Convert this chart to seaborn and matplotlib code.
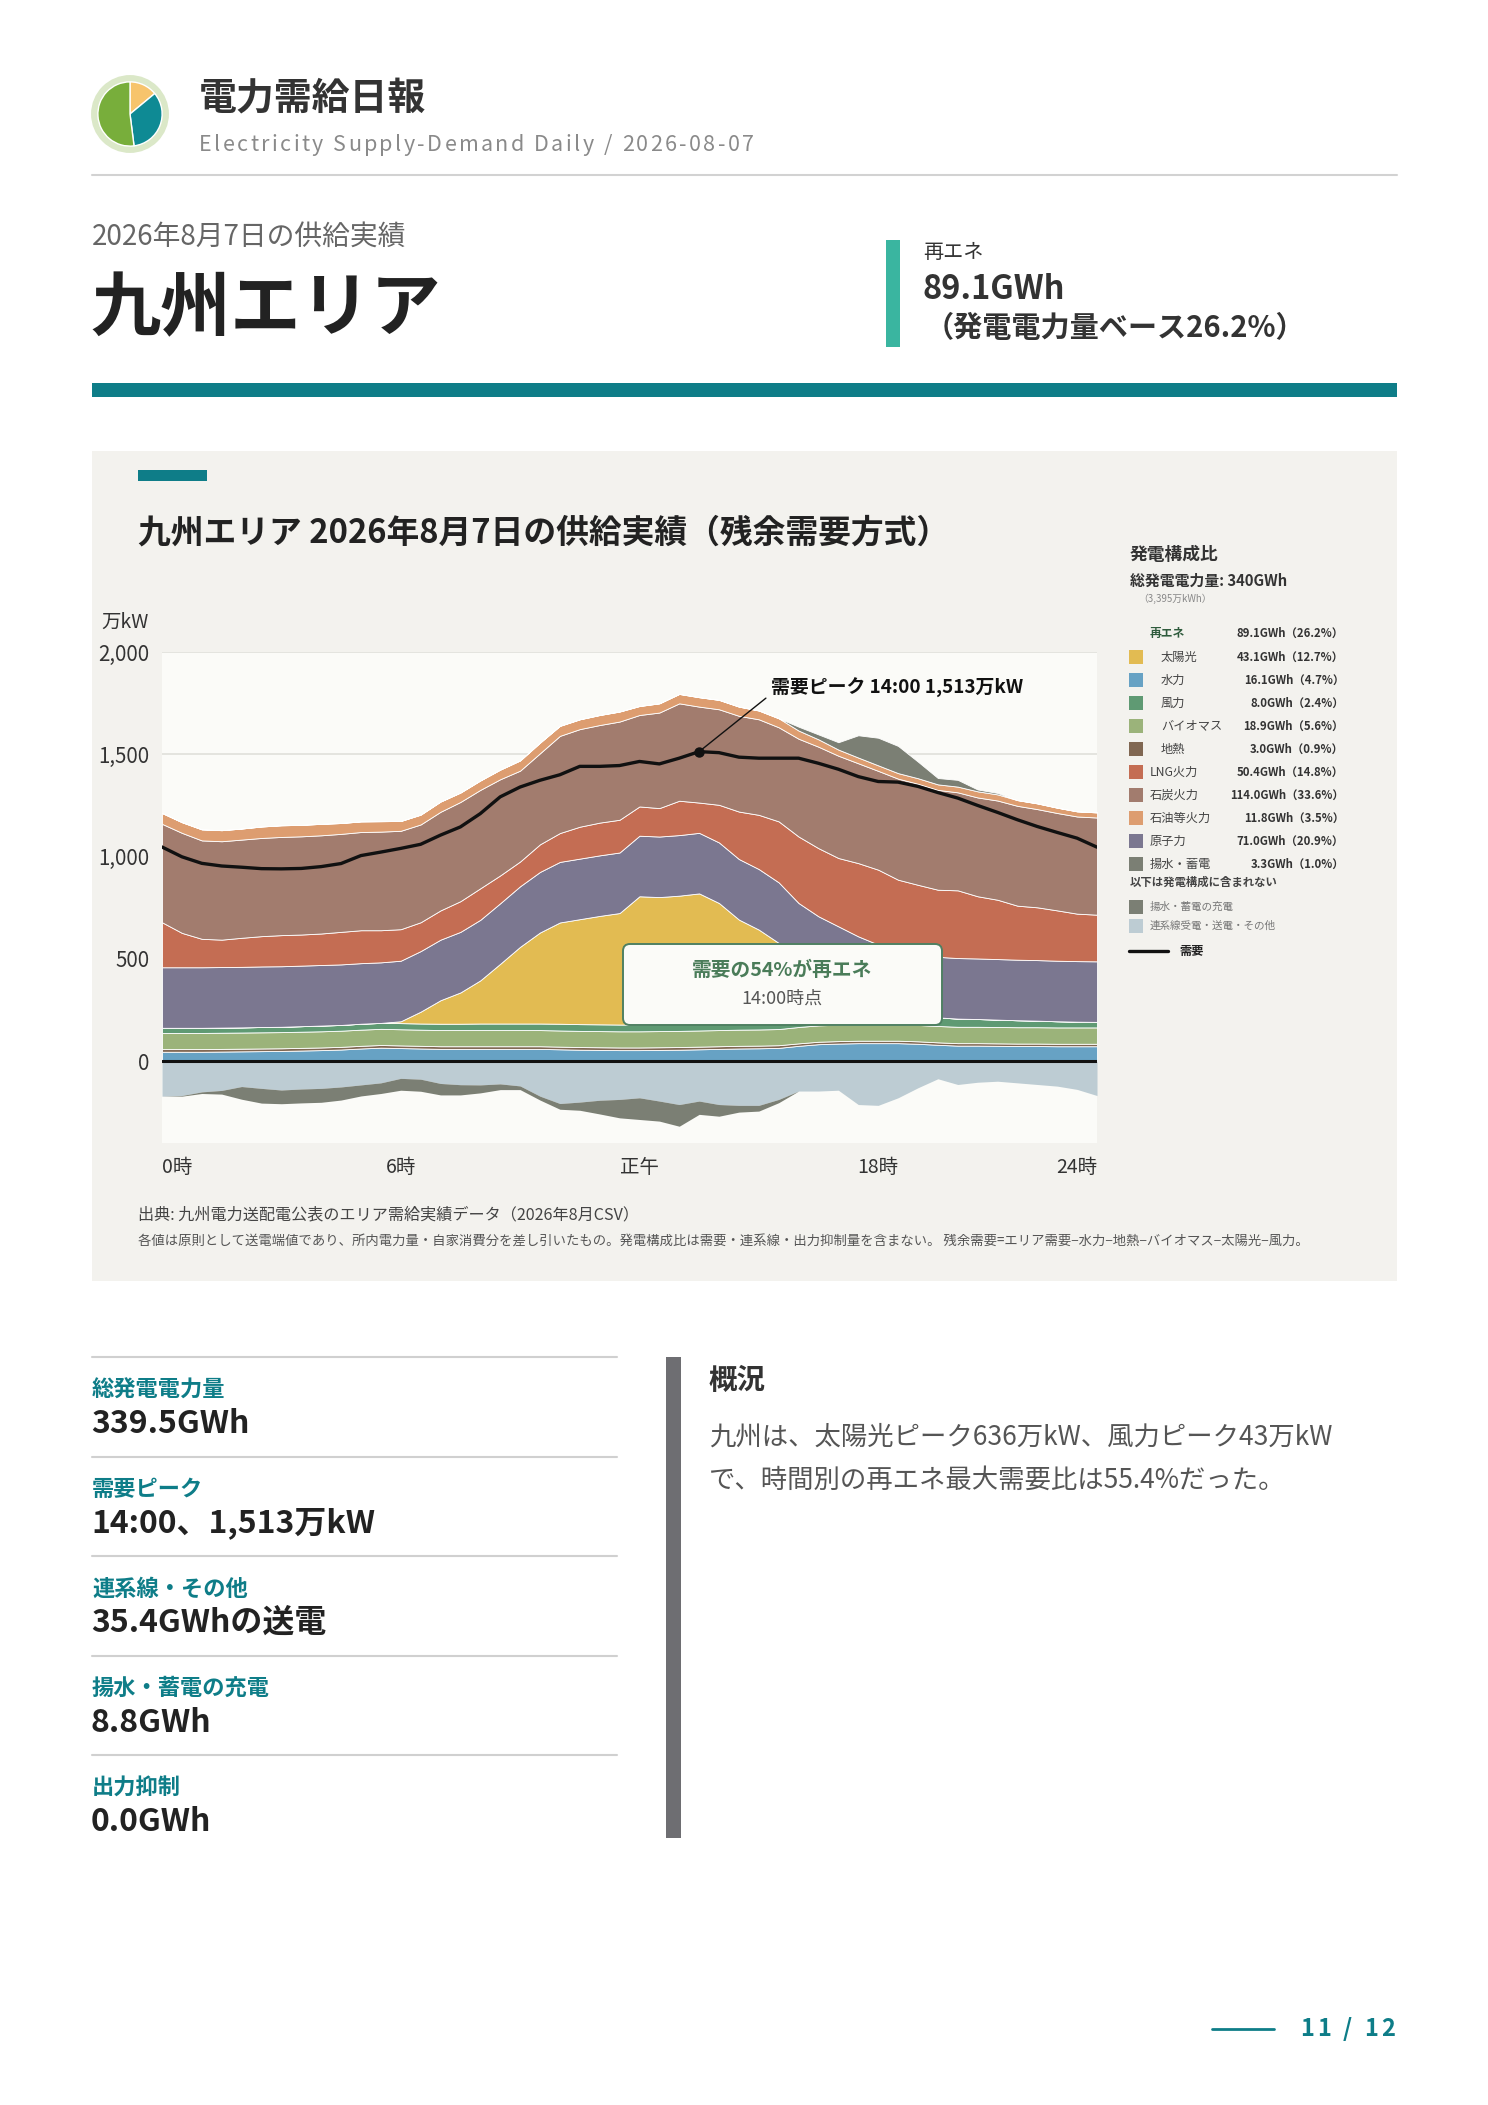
import numpy as np
import matplotlib
matplotlib.use("Agg")
import matplotlib.pyplot as plt
import seaborn as sns
from matplotlib.patches import Rectangle, FancyBboxPatch, Circle
from matplotlib.lines import Line2D
from matplotlib.transforms import IdentityTransform

# ---- data (万kW, 30-minute slots) ----
slot = np.arange(48)
hydro = [46, 46, 46, 47, 48, 49, 50, 52, 54, 57, 62, 66, 64, 62, 60, 60, 60, 60, 60, 60, 58, 56, 55, 54,
         54, 55, 56, 58, 60, 62, 63, 65, 75, 83, 86, 88, 88, 88, 85, 80, 76, 76, 75, 74, 74, 73, 73, 73]
geo = [13, 13, 13, 13, 13, 13, 13, 13, 13, 13, 13, 13, 13, 13, 13, 13, 13, 13, 13, 13, 13, 13, 13, 13,
       13, 13, 13, 13, 13, 13, 13, 13, 12, 12, 12, 12, 12, 12, 12, 12, 12, 12, 12, 12, 12, 12, 12, 12]
bio = [79, 79, 79, 79, 79, 79, 79, 79, 79, 79, 79, 79, 79, 79, 79, 79, 79, 79, 79, 79, 79, 79, 79, 79,
       79, 79, 79, 79, 79, 79, 79, 79, 80, 80, 80, 80, 80, 80, 80, 80, 80, 80, 80, 80, 80, 80, 80, 80]
wind = [25, 25, 25, 25, 25, 26, 26, 27, 28, 28, 29, 29, 30, 30, 31, 31, 32, 32, 32, 32, 33, 33, 33, 33,
        33, 34, 34, 34, 35, 35, 36, 37, 38, 40, 41, 42, 43, 43, 43, 42, 40, 38, 36, 34, 32, 30, 28, 27]
solar = [0, 0, 0, 0, 0, 0, 0, 0, 0, 0, 0, 0, 9, 58, 115, 153, 211, 292, 375, 445, 495, 513, 530, 545,
         627, 621, 627, 636, 586, 503, 452, 384, 272, 197, 144, 92, 51, 18, 5, 0, 0, 0, 0, 0, 0, 0, 0, 0]
nuclear = [296, 296, 296, 296, 296, 296, 296, 296, 296, 296, 296, 296, 296, 296, 296, 296, 296, 296, 296, 296, 296, 296, 296, 296,
           296, 296, 296, 296, 296, 296, 296, 296, 296, 296, 296, 296, 296, 296, 296, 296, 296, 296, 296, 296, 296, 296, 296, 296]
lng = [220, 168, 139, 134, 142, 148, 152, 152, 154, 159, 161, 157, 154, 141, 143, 150, 154, 136, 121, 135, 141, 156, 160, 160,
       143, 139, 168, 148, 184, 232, 265, 298, 325, 333, 334, 358, 366, 350, 341, 328, 331, 304, 290, 264, 258, 246, 232, 228]
coal = [481, 489, 481, 481, 480, 480, 480, 480, 480, 479, 480, 482, 481, 478, 482, 485, 481, 470, 444, 445, 475, 477, 477, 480,
        447, 467, 476, 469, 467, 468, 467, 460, 478, 496, 500, 488, 483, 494, 494, 488, 479, 483, 485, 488, 480, 476, 475, 475]
oil = [53, 52, 54, 54, 54, 56, 57, 56, 56, 53, 52, 51, 48, 48, 50, 46, 46, 47, 50, 52, 49, 48, 49, 49,
       44, 45, 46, 46, 46, 45, 43, 44, 40, 36, 30, 28, 27, 27, 27, 27, 28, 30, 30, 28, 28, 26, 25, 25]
pumped = [0, 0, 0, 0, 0, 0, 0, 0, 0, 0, 0, 0, 0, 0, 0, 0, 0, 0, 0, 0, 0, 0, 0, 0,
          0, 0, 0, 0, 0, 0, 0, 0, 19, 24, 36, 109, 135, 133, 81, 31, 33, 9, 7, 0, 0, 0, 0, 0]
interconnect = [-171, -168, -150, -143, -124, -133, -141, -136, -133, -126, -116, -106, -84, -88, -109, -115, -116, -111, -121, -171, -207, -200, -191, -187,
                -179, -195, -212, -195, -212, -216, -216, -187, -146, -146, -142, -212, -216, -179, -130, -86, -114, -103, -98, -106, -114, -122, -138, -168]
charge = [0, 3, 8, 18, 62, 72, 67, 68, 68, 64, 54, 52, 58, 59, 56, 50, 39, 28, 18, 19, 28, 40, 67, 90,
          106, 98, 106, 65, 57, 33, 28, 16, 0, 0, 0, 0, 0, 0, 0, 0, 0, 0, 0, 0, 0, 0, 0, 0]
demand = [1047, 999, 967, 954, 948, 941, 940, 942, 951, 966, 1005, 1022, 1040, 1060, 1105, 1145, 1210, 1292, 1340, 1373, 1400, 1441, 1441, 1445,
          1465, 1453, 1481, 1513, 1508, 1486, 1481, 1481, 1481, 1456, 1427, 1391, 1367, 1364, 1343, 1313, 1286, 1250, 1216, 1180, 1147, 1118, 1090, 1046]

xtick_pos = [0, 12, 24, 36, 47]
xtick_lab = ["0時", "6時", "正午", "18時", "24時"]
ytick_pos = [0, 500, 1000, 1500, 2000]
ytick_lab = ["0", "500", "1,000", "1,500", "2,000"]

gen_names = ["太陽光", "水力", "風力", "バイオマス", "地熱", "LNG火力", "石炭火力", "石油等火力", "原子力", "揚水・蓄電"]
gen_gwh = [43.1, 16.1, 8.0, 18.9, 3.0, 50.4, 114.0, 11.8, 71.0, 3.3]
gen_pct = [12.7, 4.7, 2.4, 5.6, 0.9, 14.8, 33.6, 3.5, 20.9, 1.0]
gen_renew = [True, True, True, True, True, False, False, False, False, False]

metric_labels = ["総発電電力量", "需要ピーク", "連系線・その他", "揚水・蓄電の充電", "出力抑制"]
metric_values = ["339.5GWh", "14:00、1,513万kW", "35.4GWhの送電", "8.8GWh", "0.0GWh"]
logo_share = [14, 34, 52]

# colours
C = {"hydro": "#67a2c4", "geo": "#806752", "bio": "#9bb37a", "wind": "#5f9a73", "solar": "#e2bb52",
     "nuclear": "#7b7790", "lng": "#c46d53", "coal": "#a27c6e", "oil": "#dd9d70", "pumped": "#7b7f74",
     "charge": "#7b7f74", "ic": "#bdccd3"}
TEAL = "#0e7d88"

W, H = 1488, 2105
sns.set_theme(style="white")
plt.rcParams["font.family"] = ["Noto Sans CJK JP", "DejaVu Sans"]

fig = plt.figure(figsize=(W / 100, H / 100), dpi=100, facecolor="white")
renderer = fig.canvas.get_renderer()


def fx(x):
    return x / W


def fy(y):
    return 1 - y / H


def put(x, y, s, size, color="#333333", weight="normal", ha="left", va="center"):
    fig.text(fx(x), fy(y), s, fontsize=size, color=color, fontweight=weight, ha=ha, va=va)


def spaced(x, y, s, size, color, weight, gap, ha="left"):
    # letter-spaced text: measure each prefix, then place glyph by glyph
    widths = []
    for i in range(len(s) + 1):
        t = fig.text(0, 0, s[:i] + "|", fontsize=size, fontweight=weight)
        bar = fig.text(0, 0, "|", fontsize=size, fontweight=weight)
        widths.append(t.get_window_extent(renderer).width - bar.get_window_extent(renderer).width)
        t.remove()
        bar.remove()
    total = widths[-1] + gap * (len(s) - 1)
    x0 = x if ha == "left" else x - total
    for i, ch in enumerate(s):
        if ch != " ":
            put(x0 + widths[i] + gap * i, y, ch, size, color, weight)


def rect(x0, y0, x1, y1, color, z=-5):
    fig.patches.append(Rectangle((fx(x0), fy(y1)), fx(x1) - fx(x0), fy(y0) - fy(y1),
                                 transform=fig.transFigure, facecolor=color, edgecolor="none", zorder=z))


def hline(x0, x1, y, color, lw, z=2):
    fig.lines.append(Line2D([fx(x0), fx(x1)], [fy(y), fy(y)], transform=fig.transFigure,
                            color=color, lw=lw, zorder=z))


# ---- header ----
lax = fig.add_axes([fx(91), fy(153), 78 / W, 78 / H])
lax.add_patch(Circle((0, 0), 1.0, color="#dbe8c8"))
lax.pie(logo_share, colors=["#f7c46c", "#0e8a94", "#78ae3b"], startangle=90, counterclock=False, radius=0.84)
lax.set_xlim(-1.02, 1.02)
lax.set_ylim(-1.02, 1.02)
lax.set_aspect("equal")
lax.axis("off")

put(199, 98, "電力需給日報", 27.3, "#333333", "bold")
spaced(199, 145, "Electricity Supply-Demand Daily / 2026-08-07", 15.5, "#8a8a8a", "normal", 2.4)
hline(92, 1397, 175, "#d2d2d2", 1.5)

put(92, 238, "2026年8月7日の供給実績", 20, "#666666")
put(90, 310, "九州エリア", 50.5, "#222222", "bold")
rect(886, 240, 900, 347, "#3ab5a0")
put(923, 253, "再エネ", 14.5, "#333333")
put(922, 289, "89.1GWh", 23.5, "#333333", "bold")
put(925, 328, "（発電電力量ベース26.2%）", 21, "#333333", "bold")
rect(92, 383, 1397, 397, TEAL)

# ---- chart panel ----
rect(92, 451, 1397, 1281, "#f3f2ee", z=-10)
rect(138, 470, 207, 481, TEAL)
put(138, 533, "九州エリア 2026年8月7日の供給実績（残余需要方式）", 23.6, "#222222", "bold")

ax = fig.add_axes([fx(162), fy(1143), (1097 - 162) / W, (1143 - 652) / H])
ax.set_facecolor("#fbfbf8")
ax.set_xlim(0, 47)
ax.set_ylim(-400, 2000)
ax.yaxis.grid(True, color="#e0e0db", lw=1.2)
ax.set_axisbelow(True)
for s in ax.spines.values():
    s.set_visible(False)

pos_layers = [hydro, geo, bio, wind, solar, nuclear, lng, coal, oil, pumped]
pos_cols = [C["hydro"], C["geo"], C["bio"], C["wind"], C["solar"], C["nuclear"], C["lng"], C["coal"], C["oil"], C["pumped"]]
ax.stackplot(slot, *pos_layers, colors=pos_cols, edgecolor="white", linewidth=0.6, zorder=2)
ax.stackplot(slot, interconnect, [-c for c in charge], colors=[C["ic"], C["charge"]], linewidth=0, zorder=2)
ax.axhline(0, color="#111111", lw=2.2, zorder=4)
sns.lineplot(x=slot, y=demand, color="#111111", lw=2.4, ax=ax, zorder=5)

pk = int(np.argmax(demand))
ax.plot([slot[pk]], [demand[pk]], "o", color="#111111", ms=6.5, zorder=6)
ax.annotate("需要ピーク 14:00 1,513万kW", xy=(slot[pk], demand[pk]), xytext=(52, 46),
            textcoords="offset points", fontsize=13.6, fontweight="bold", color="#111111",
            ha="left", va="center", zorder=7,
            arrowprops=dict(arrowstyle="-", color="#111111", lw=1.0, shrinkA=2, shrinkB=0, relpos=(0, 0.2)))

ax.set_yticks(ytick_pos)
ax.set_yticklabels(ytick_lab)
ax.set_xticks(xtick_pos)
ax.set_xticklabels(xtick_lab)
ax.tick_params(axis="y", length=0, pad=9, labelsize=14.8, labelcolor="#333333")
ax.tick_params(axis="x", length=0, pad=10, labelsize=14, labelcolor="#333333")
xl = ax.get_xticklabels()
xl[0].set_ha("left")
xl[-1].set_ha("right")
put(101, 622, "万kW", 14, "#333333")

# renewable share box
fig.patches.append(FancyBboxPatch((623, H - 1025), 319, 81, boxstyle="round,pad=0,rounding_size=7",
                                  transform=IdentityTransform(), facecolor="#fbfbf8",
                                  edgecolor="#4f8062", lw=1.4, zorder=8))
fig.text(fx(782), fy(970), "需要の54%が再エネ", fontsize=14.2, color="#4a7c59", fontweight="bold",
         ha="center", va="center", zorder=9)
fig.text(fx(782), fy(999), "14:00時点", fontsize=13, color="#555555", ha="center", va="center", zorder=9)

# legend
put(1130, 555, "発電構成比", 12.8, "#333333", "bold")
put(1130, 581, "総発電電力量: 340GWh", 10.7, "#333333", "bold")
put(1138, 599, "（3,395万kWh）", 7, "#888888")
put(1150, 633, "再エネ", 8.5, "#2e5b3c", "bold")
put(1344, 633, "89.1GWh（26.2%）", 8.2, "#333333", "bold", ha="right")
leg_cols = [C["solar"], C["hydro"], C["wind"], C["bio"], C["geo"], C["lng"], C["coal"], C["oil"], C["nuclear"], C["pumped"]]
for i, name in enumerate(gen_names):
    yy = 657 + 23 * i
    rect(1129, yy - 7, 1143, yy + 7, leg_cols[i], z=1)
    put(1161 if gen_renew[i] else 1150, yy, name, 8.8, "#444444")
    put(1344, yy, f"{gen_gwh[i]:.1f}GWh（{gen_pct[i]:.1f}%）", 8.2, "#333333", "bold", ha="right")
put(1130, 882, "以下は発電構成に含まれない", 8.2, "#444444", "bold")
rect(1129, 900, 1143, 914, C["charge"], z=1)
put(1150, 907, "揚水・蓄電の充電", 7.6, "#777777")
rect(1129, 919, 1143, 933, C["ic"], z=1)
put(1150, 926, "連系線受電・送電・その他", 7.6, "#777777")
hline(1129, 1168, 951, "#111111", 2.4)
put(1179, 951, "需要", 8.8, "#222222", "bold")

put(138, 1215, "出典: 九州電力送配電公表のエリア需給実績データ（2026年8月CSV）", 11.6, "#444444")
put(138, 1242, "各値は原則として送電端値であり、所内電力量・自家消費分を差し引いたもの。発電構成比は需要・連系線・出力抑制量を含まない。"
               " 残余需要=エリア需要−水力−地熱−バイオマス−太陽光−風力。", 9.6, "#555555")

# ---- metrics ----
for i, (lab, val) in enumerate(zip(metric_labels, metric_values)):
    y0 = 1357 + 99.5 * i
    hline(92, 617, y0, "#d0d0d0", 1.5)
    put(92, y0 + 33, lab, 16, TEAL, "bold")
    put(91, y0 + 67, val, 23, "#222222", "bold")

rect(666, 1357, 681, 1838, "#6e6e72")
put(709, 1381, "概況", 20.5, "#333333", "bold")
put(709, 1437, "九州は、太陽光ピーク636万kW、風力ピーク43万kW", 19, "#555555")
put(709, 1480, "で、時間別の再エネ最大需要比は55.4%だった。", 19, "#555555")

hline(1212, 1274, 2029, TEAL, 2)
spaced(1395, 2029, "11 / 12", 17, TEAL, "bold", 3.2, ha="right")

fig.savefig("out.png", dpi=100, facecolor="white")
